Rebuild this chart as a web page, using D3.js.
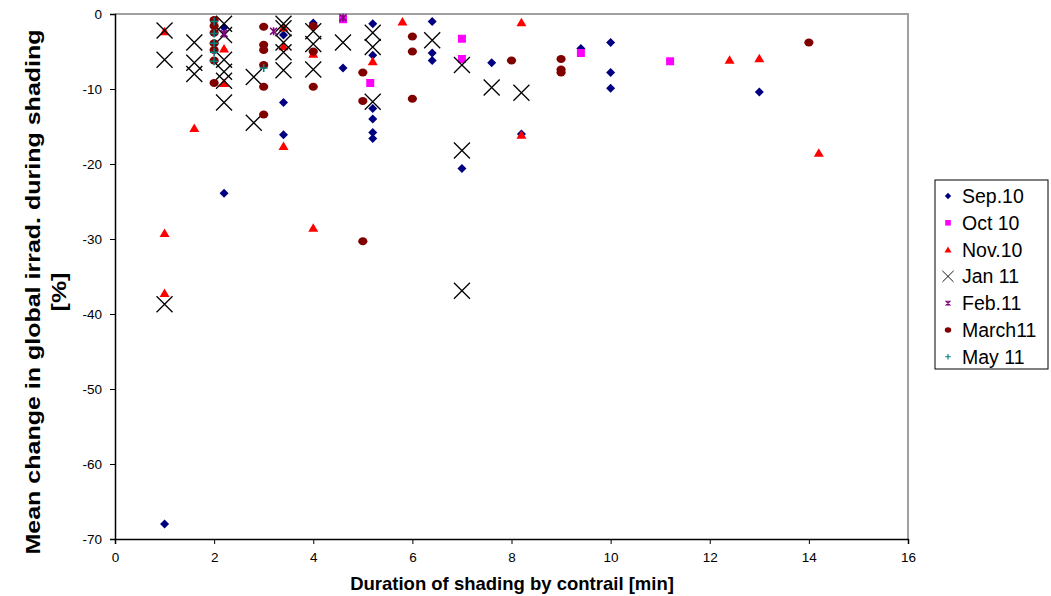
<!DOCTYPE html>
<html><head><meta charset="utf-8">
<script src="https://cdn.jsdelivr.net/npm/d3@7/dist/d3.min.js"></script>
<style>body{margin:0;background:#fff}svg{display:block;font-family:Arial,"Liberation Sans",sans-serif}</style>
</head><body><svg id="c" width="1051" height="596"></svg>
<script>
const seriesNames = ["Sep.10","Oct 10","Nov.10","Jan 11","Feb.11","March11","May 11"];
const sep10 = [[1.0,-68.0],[2.2,-1.8],[2.2,-23.9],[3.4,-2.8],[3.4,-11.8],[3.4,-16.1],[4.0,-1.2],[4.6,-7.2],[5.2,-1.3],[5.2,-5.5],[5.2,-12.6],[5.2,-14.0],[5.2,-15.8],[5.2,-16.6],[6.4,-1.0],[6.4,-5.2],[6.4,-6.2],[7.0,-20.6],[7.6,-6.5],[8.2,-16.0],[9.4,-4.6],[10.0,-3.8],[10.0,-7.8],[10.0,-9.9],[13.0,-10.4]];
const oct10 = [[4.6,-0.7],[5.15,-9.2],[7.0,-3.3],[7.0,-6.0],[9.4,-5.2],[11.2,-6.3]];
const nov10 = [[1.0,-2.3],[1.0,-29.2],[1.0,-37.2],[1.6,-15.2],[2.2,-4.6],[2.2,-9.2],[3.4,-1.8],[3.4,-4.3],[3.4,-17.6],[4.0,-5.3],[4.0,-28.5],[5.2,-6.3],[5.8,-1.0],[8.2,-1.1],[8.2,-16.1],[12.4,-6.1],[13.0,-5.9],[14.2,-18.5]];
const jan11 = [[1.0,-2.2],[1.0,-6.1],[1.0,-38.7],[1.6,-3.8],[1.6,-6.5],[1.6,-8.0],[2.2,-1.3],[2.2,-2.8],[2.2,-6.1],[2.2,-7.7],[2.2,-8.9],[2.2,-11.8],[2.8,-8.4],[2.8,-14.5],[3.4,-1.3],[3.4,-1.9],[3.4,-3.8],[3.4,-5.1],[3.4,-7.5],[4.0,-2.3],[4.0,-4.0],[4.0,-7.4],[4.6,-3.8],[5.2,-2.5],[5.2,-4.4],[5.2,-11.7],[6.4,-3.5],[7.0,-6.8],[7.0,-18.2],[7.0,-36.9],[7.6,-9.8],[8.2,-10.5]];
const feb11 = [[2.2,-2.6],[3.2,-2.3],[4.6,-0.5]];
const march11 = [[2.0,-0.8],[2.0,-1.6],[2.0,-2.5],[2.0,-3.9],[2.0,-4.8],[2.0,-6.2],[2.0,-9.2],[3.0,-1.7],[3.0,-4.1],[3.0,-4.8],[3.0,-6.8],[3.0,-9.7],[3.0,-13.4],[4.0,-1.6],[4.0,-5.0],[4.0,-9.7],[5.0,-7.8],[5.0,-11.6],[5.0,-30.3],[6.0,-3.0],[6.0,-5.0],[6.0,-11.3],[8.0,-6.2],[9.0,-6.0],[9.0,-7.4],[9.0,-7.8],[14.0,-3.8]];
const may11 = [[2.0,-1.0],[2.0,-2.6],[2.0,-3.9],[2.0,-5.1],[2.0,-6.3],[3.0,-7.2]];
const xTicks = [0,2,4,6,8,10,12,14,16];
const yTicks = [0,-10,-20,-30,-40,-50,-60,-70];

const seriesData = [sep10,oct10,nov10,jan11,feb11,march11,may11];
const colors = ["#000080","#FF00FF","#FF0000","#000000","#800080","#800000","#008080"];
const shapes = ["diamond","square","triangle","x","star","circle","plus"];

const svg = d3.select("#c");
const L=115,R=908,T=14,B=539;
const x = d3.scaleLinear().domain([0,16]).range([L,R]);
const y = d3.scaleLinear().domain([-70,0]).range([B,T]);

svg.append("path").attr("d",`M${L},${T}H${R}V${B}`).attr("fill","none").attr("stroke","#a0a0a0").attr("stroke-width",2);

const xAxis = svg.append("g").attr("transform",`translate(0,${B})`)
  .call(d3.axisBottom(x).tickValues(xTicks).tickSize(5).tickPadding(8).tickFormat(d=>String(d)));
const yAxis = svg.append("g").attr("transform",`translate(${L},0)`)
  .call(d3.axisLeft(y).tickValues(yTicks).tickSize(5).tickPadding(8).tickFormat(d=>String(d)));
[xAxis,yAxis].forEach(g=>{
  g.select(".domain").attr("stroke","#000").attr("stroke-width",1.5);
  g.selectAll(".tick line").attr("stroke","#000");
  g.selectAll("text").attr("font-size",13.5).attr("fill","#000").attr("font-family","Arial, 'Liberation Sans', sans-serif");
});

function markerPath(shape){
  switch(shape){
    case "diamond": return "M0,-4.5L4.5,0L0,4.5L-4.5,0Z";
    case "square": return "M-4,-4H4V4H-4Z";
    case "triangle": return "M0,-4.5L5,4L-5,4Z";
    case "x": return "M-8,-8L8,8M-8,8L8,-8";
    case "plus": return "M-4,0H4M0,-4V4";
    case "star": return "M-3.5,-3.5L3.5,3.5M-3.5,3.5L3.5,-3.5M0,-4V4";
  }
}
function drawMarker(g, shape, color){
  if(shape==="circle"){
    g.append("ellipse").attr("rx",4.6).attr("ry",4).attr("fill",color);
  } else if(shape==="x"||shape==="plus"||shape==="star"){
    g.append("path").attr("d",markerPath(shape)).attr("stroke",color).attr("stroke-width",shape==="x"?1.3:1.6).attr("fill","none");
  } else {
    g.append("path").attr("d",markerPath(shape)).attr("fill",color);
  }
}

const pts = svg.append("g");
seriesData.forEach((data,i)=>{
  const gs = pts.append("g");
  data.forEach(d=>{
    const g = gs.append("g").attr("transform",`translate(${x(d[0])},${y(d[1])})`);
    drawMarker(g, shapes[i], colors[i]);
  });
});

svg.append("text").attr("x",512).attr("y",590).attr("text-anchor","middle")
  .attr("font-weight","bold").attr("font-size",18.5).text("Duration of shading by contrail [min]");
const yt = svg.append("g").attr("transform","translate(0,292) rotate(-90) scale(1.22,1)");
yt.append("text").attr("x",0).attr("y",40).attr("text-anchor","middle").attr("font-weight","bold").attr("font-size",20.5)
  .text("Mean change in global irrad. during shading");
yt.append("text").attr("x",0).attr("y",66).attr("text-anchor","middle").attr("font-weight","bold").attr("font-size",20.5)
  .text("[%]");

const lg = svg.append("g");
lg.append("rect").attr("x",935).attr("y",180).attr("width",113).attr("height",189).attr("fill","#fff").attr("stroke","#000").attr("stroke-width",1);
seriesNames.forEach((n,i)=>{
  const yy = 196 + i*26.8;
  const g = lg.append("g").attr("transform",`translate(948,${yy})`);
  const s = g.append("g").attr("transform","scale(0.7)");
  drawMarker(s, shapes[i], colors[i]);
  lg.append("text").attr("x",962).attr("y",yy).attr("dy","0.36em").attr("font-size",19.5).text(n);
});
</script></body></html>
